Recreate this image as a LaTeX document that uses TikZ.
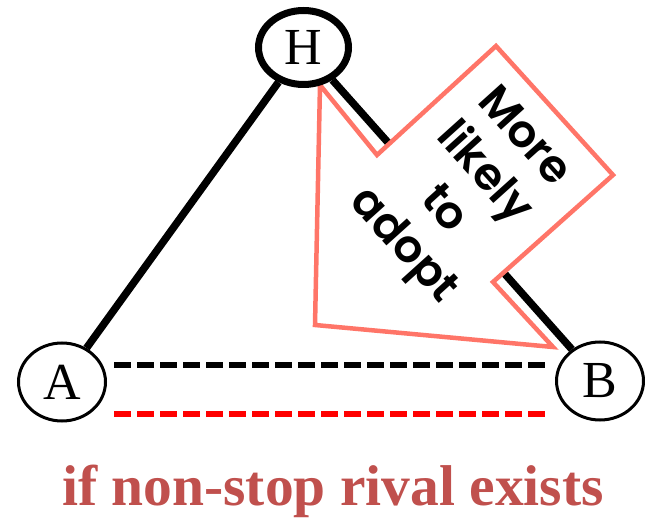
\documentclass[tikz,border=0pt]{standalone}
\usepackage{fontspec}
\setmainfont{Liberation Serif}
\newfontfamily\popfont{Poppins}[BoldFont={* SemiBold}]
\usetikzlibrary{shapes.geometric}
\definecolor{salmon}{RGB}{255,117,104}
\definecolor{titlered}{RGB}{192,80,77}
\definecolor{dashred}{RGB}{255,0,0}
\pgfdeclarelayer{background}
\pgfsetlayers{background,main}
\begin{document}
\begin{tikzpicture}[x=1pt,y=-1pt,
  vert/.style={ellipse, draw, fill=white, line width=3pt, minimum width=87pt, minimum height=78pt, inner sep=0pt, font=\fontsize{52}{52}\selectfont},
  edgeline/.style={line width=7.5pt},
  dashline/.style={line width=6pt, dash pattern=on 17pt off 6pt},
  bigarrow/.style={draw=salmon, fill=white, line width=4.5pt, line join=miter},
  arrowtext/.style={rotate=-48, align=center, font=\popfont\bfseries\fontsize{45}{54}\selectfont},
  caption/.style={anchor=base, text=titlered, font=\bfseries\fontsize{57.5}{57.5}\selectfont}]
\useasboundingbox (0,0) rectangle (645,518);

\node[vert, line width=7pt, minimum width=90pt, minimum height=74pt] (H) at (303.5,47.5) {H};
\node[vert] (A) at (62,382) {A};
\node[vert] (B) at (600,381) {B};

\coordinate (k1) at (114,365);
\coordinate (k2) at (550,365);
\coordinate (r1) at (114,414);
\coordinate (r2) at (550,414);

\begin{pgfonlayer}{background}
\draw[edgeline] (A) -- (H);
\draw[edgeline] (H) -- (B);
\draw[bigarrow] (320,85) -- (377,155) -- (496,46) -- (613,175) -- (493,282) -- (553,347) -- (315,325) -- cycle;
\end{pgfonlayer}

\node[arrowtext] (T) at (462,193) {More\\likely\\to\\adopt};

\draw[dashline, black] (k1) -- (k2);
\draw[dashline, dashred] (r1) -- (r2);

\node[caption] (C) at (333,505) {if non-stop rival exists};
\end{tikzpicture}
\end{document}
